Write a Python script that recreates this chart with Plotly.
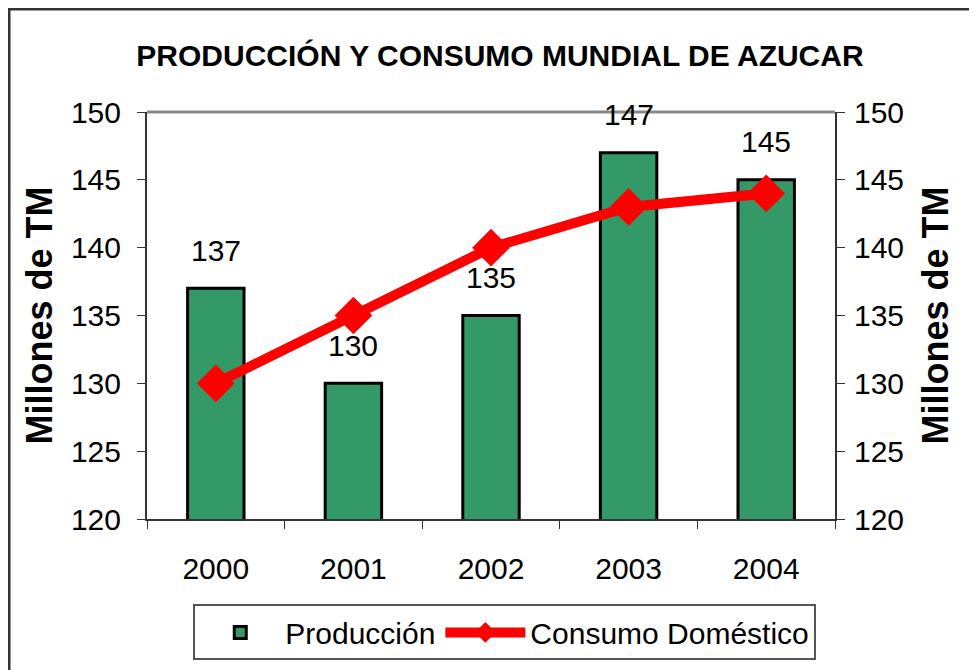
import plotly.graph_objects as go

years = ["2000", "2001", "2002", "2003", "2004"]
produccion = [137, 130, 135, 147, 145]
consumo = [130, 135, 140, 143, 144]
title_text = "PRODUCCIÓN Y CONSUMO MUNDIAL DE AZUCAR"
y_title = "Millones de TM"

FONT = "Liberation Sans, Arial, sans-serif"

# plot area in figure pixels (page adds an 8px body margin)
L, R, T, B = 139, 150, 104, 159
PW, PH = 977 - L - R, 670 - T - B

fig = go.Figure()
fig.add_trace(go.Bar(
    x=years, y=produccion, name="Producción",
    marker=dict(color="#339966", line=dict(color="black", width=3)),
    width=0.41,
))
fig.add_trace(go.Scatter(
    x=years, y=consumo, name="Consumo Doméstico", mode="lines+markers",
    line=dict(color="#FF0000", width=10),
    marker=dict(symbol="diamond", size=29, color="#FF0000"),
))
# invisible trace to activate right axis
fig.add_trace(go.Scatter(x=years, y=consumo, yaxis="y2", showlegend=False,
                         mode="markers", marker=dict(opacity=0), hoverinfo="skip"))

for i, v in enumerate(produccion):
    fig.add_annotation(x=i, y=v, xref="x", yref="y", text=str(v), showarrow=False,
                       yshift=38, font=dict(size=30, color="black", family=FONT))

# chart border and plot area top line
fig.add_shape(type="rect", xref="paper", yref="paper",
              x0=(1 - L) / PW, x1=(1000 - L) / PW,
              y0=-(B + 40) / PH, y1=(PH + T - 1) / PH,
              line=dict(color="#333333", width=3), layer="below")
fig.add_shape(type="line", xref="paper", yref="paper", x0=0, x1=1, y0=1, y1=1,
              line=dict(color="#888888", width=3), layer="below")

axis_font = dict(size=30, color="black", family=FONT)
ytitle_font = dict(size=36, color="black", family=FONT)
fig.update_layout(
    width=977, height=670,
    margin=dict(l=L, r=R, t=T, b=B),
    paper_bgcolor="white", plot_bgcolor="white",
    title=dict(text="<b>" + title_text + "</b>", x=492 / 977, xanchor="center",
               y=1 - 47 / 670, yanchor="middle",
               font=dict(size=30, color="black", family=FONT)),
    showlegend=True,
    legend=dict(orientation="h", x=0.52, xanchor="center", y=-0.21, yanchor="top",
                font=dict(size=30, color="black", family=FONT),
                bordercolor="#555555", borderwidth=2, bgcolor="white",
                itemwidth=80, tracegroupgap=0),
    xaxis=dict(type="category", range=[-0.5, 4.5], showline=True, linecolor="#333333",
               linewidth=2, ticks="outside", tickson="boundaries", ticklen=8,
               tickcolor="#333333", tickfont=axis_font, tickangle=0, showgrid=False,
               zeroline=False, ticklabelstandoff=22, automargin=False),
    yaxis=dict(range=[120, 150], dtick=5, showline=True, linecolor="#333333", linewidth=2,
               ticks="outside", ticklen=8, tickcolor="#333333", tickfont=axis_font,
               showgrid=False, zeroline=False, automargin=False, ticklabelstandoff=10,
               title=dict(text="<b>" + y_title + "</b>", standoff=7, font=ytitle_font)),
    yaxis2=dict(range=[120, 150], dtick=5, overlaying="y", side="right", showline=True,
                linecolor="#333333", linewidth=2, ticks="outside", ticklen=8,
                tickcolor="#333333", tickfont=axis_font, showgrid=False, zeroline=False,
                automargin=False, ticklabelstandoff=3,
                title=dict(text="<b>" + y_title + "</b>", standoff=20, font=ytitle_font)),
    bargap=0.59,
)

fig.write_html("out.html")
